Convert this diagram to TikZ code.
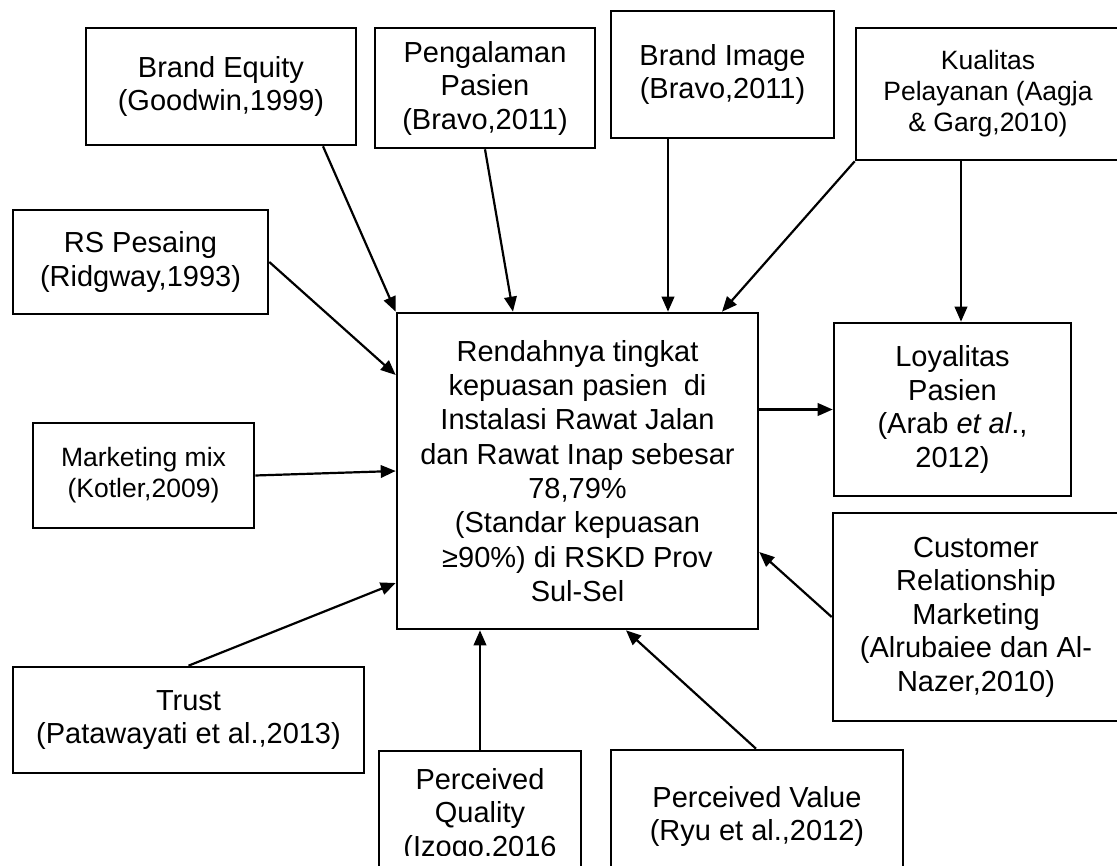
\documentclass[tikz,border=0pt]{standalone}
\usepackage{fontspec}
\setmainfont{Liberation Sans}
\usetikzlibrary{arrows.meta}

\begin{document}
\begin{tikzpicture}[x=1pt,y=-1pt,
  box/.style={draw,line width=2.6pt,align=center,inner sep=0pt,font=\fontsize{29}{33.5}\selectfont},
  small/.style={font=\fontsize{26.5}{31}\selectfont},
  link/.style={-{Triangle[length=15pt,width=12.5pt]},line width=2.2pt}]
\useasboundingbox (0,0) rectangle (1117,866);
\clip (0,0) rectangle (1117,866);
% the boxes
\node[box,minimum width=361pt,minimum height=316pt,font=\fontsize{29}{34.3}\selectfont] (main) at (577.5,471)
  {Rendahnya tingkat\\kepuasan pasien\ \ di\\Instalasi Rawat Jalan\\dan Rawat Inap sebesar\\78,79\%\\(Standar kepuasan\\≥90\%) di RSKD Prov\\Sul-Sel};
\node[box,minimum width=270pt,minimum height=117pt] (equity) at (221,86.5) {Brand Equity\\(Goodwin,1999)};
\node[box,minimum width=220pt,minimum height=120pt] (exper) at (485,88) {Pengalaman\\Pasien\\(Bravo,2011)};
\node[box,minimum width=223pt,minimum height=127pt] (image) at (722.5,74.5) {Brand Image\\(Bravo,2011)};
\node[box,small,minimum width=264pt,minimum height=132pt] (quality) at (988,94) {Kualitas\\Pelayanan (Aagja\\\& Garg,2010)};
\node[box,minimum width=255pt,minimum height=104pt] (rival) at (140.5,262) {RS Pesaing\\(Ridgway,1993)};
\node[box,minimum width=237pt,minimum height=173pt] (loyal) at (952.5,409.5) {Loyalitas\\Pasien\\(Arab \textit{et al}.,\\2012)};
\node[box,small,minimum width=221pt,minimum height=105pt] (mix) at (143.5,475.5) {Marketing mix\\(Kotler,2009)};
\node[box,minimum width=286pt,minimum height=208pt] (crm) at (976,617) {Customer\\Relationship\\Marketing\\(Alrubaiee dan Al-\\Nazer,2010)};
\node[box,minimum width=351pt,minimum height=106pt] (trust) at (188.5,720) {Trust\\(Patawayati et al.,2013)};
\node[box,minimum width=202pt,minimum height=149pt] (perq) at (480,825.5) {};
\begin{scope}
\clip (379,751) rectangle (581,855);
\node[box,draw=none] (perqtext) at (480,815) {Perceived\\Quality\\(Izogo,2016};
\end{scope}
\node[box,minimum width=292pt,minimum height=133pt] (perv) at (757,816.5) {Perceived Value\\(Ryu et al.,2012)};
% arrows into the main box
\draw[link] ([xshift=102pt]equity.south) -- (main.north west);
\draw[link] (exper.south) -- ([xshift=-64.5pt]main.north);
\draw[link] ([xshift=-54.5pt]image.south) -- ([xshift=-54.5pt]image.south |- main.north);
\draw[link] (quality.south west) -- ([xshift=144.5pt]main.north);
\draw[link] ([xshift=-27pt]quality.south) -- ([xshift=-27pt]quality.south |- loyal.north);
\draw[link] (rival.east) -- ([yshift=96pt]main.west);
\draw[link] (mix.east) -- (main.west);
\draw[link] (trust.north) -- ([yshift=-112pt]main.west);
\draw[link] (perq.north) -- (perq.north |- main.south);
\draw[link] ([xshift=-1pt]perv.north) -- ([xshift=48.5pt]main.south);
\draw[link] (crm.west) -- ([yshift=-81pt]main.east);
\draw[link] (main.east |- loyal.west) -- (loyal.west);
\end{tikzpicture}
\end{document}
